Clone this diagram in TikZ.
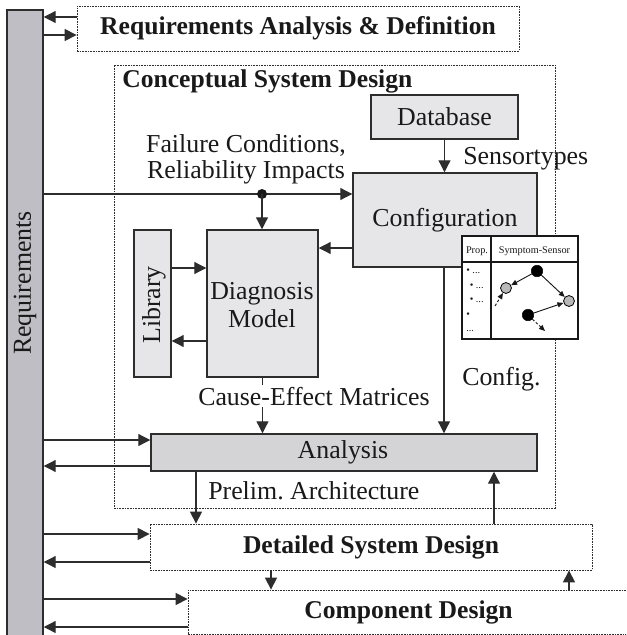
\documentclass[tikz,border=0pt]{standalone}
\usepackage{fontspec}
\setmainfont{Liberation Serif}
\usetikzlibrary{arrows.meta,fit}

\definecolor{boxfill}{RGB}{230,230,232}
\definecolor{anafill}{RGB}{212,212,215}
\definecolor{barfill}{RGB}{190,190,196}
\definecolor{edge}{RGB}{45,45,45}
\definecolor{ink}{RGB}{25,25,25}
\definecolor{dotgray}{RGB}{185,185,185}

\newcommand\lblfont{\fontsize{19.4}{23}\selectfont}
\newcommand\headfont{\fontsize{19.2}{22}\selectfont\bfseries}
\newcommand\tblfont{\fontsize{7.7}{9}\selectfont}

\tikzset{
  gbox/.style={draw=edge, line width=1.1pt, fill=boxfill, inner sep=0pt},
  abox/.style={gbox, fill=anafill},
  barbox/.style={gbox, fill=barfill},
  phase/.style={draw=edge, line width=0.6pt, dash pattern=on 1.2pt off 0.8pt, inner sep=0pt},
  conn/.style={draw=edge, line width=0.9pt, -{Triangle[length=9pt,width=9pt]}},
  lbl/.style={font=\lblfont, text=ink, inner sep=0pt},
  hlbl/.style={font=\headfont, text=ink, inner sep=0pt},
  tlbl/.style={font=\tblfont, text=ink, inner sep=0pt},
  tbl/.style={draw=ink, line width=0.9pt, fill=white, inner sep=0pt},
  bdot/.style={circle, fill=black, draw=black, inner sep=0pt, minimum size=8.6pt},
  gdot/.style={circle, fill=dotgray, draw=black, line width=0.6pt, inner sep=0pt, minimum size=8.2pt},
  tarr/.style={draw=ink, line width=0.7pt, -{Triangle[length=4.5pt,width=3.8pt]}},
  tdash/.style={tarr, dash pattern=on 2pt off 1.5pt}
}

\begin{document}
\begin{tikzpicture}[x=0.75pt, y=-0.75pt]
\useasboundingbox (0,0) rectangle (626,635);
\clip (0,0) rectangle (626,635);

% conceptual design frame
\node[phase, fit={(114,65) (555,508)}] (csd) {};
\node[hlbl, anchor=base west] (csdtitle) at (122,88) {Conceptual System Design};

% requirements bar
\node[barbox, fit={(7,10) (43,650)}] (bar) {};
\node[lbl, rotate=90] (bartext) at (25,283) {Requirements};

% phases
\node[phase, fit={(77,6) (519,51)}] (rad) {};
\node[hlbl] (radtext) at (rad.center) {Requirements Analysis \& Definition};
\node[phase, fit={(150,524) (592,570)}] (dsd) {};
\node[hlbl] (dsdtext) at (dsd.center) {Detailed System Design};
\node[phase, fit={(188,590) (629,634)}] (cd) {};
\node[hlbl] (cdtext) at (cd.center) {Component Design};

% blocks of the conceptual design
\node[gbox, fit={(371,95) (518,139)}] (db) {};
\node[lbl] (dbtext) at (db.center) {Database};
\node[gbox, fit={(353,173) (537,267)}] (cfg) {};
\node[lbl] (cfgtext) at (cfg.center) {Configuration};
\node[gbox, fit={(207,230) (318,377)}] (diag) {};
\node[lbl, anchor=base] (diagA) at (262,299) {Diagnosis};
\node[lbl, anchor=base] (diagB) at (262,327) {Model};
\node[gbox, fit={(134,230) (171,377)}] (lib) {};
\node[lbl, rotate=90] (libtext) at (154,305) {Library};
\node[abox, fit={(151,434) (537,471)}] (ana) {};
\node[lbl] (anatext) at (343,452.5) {Analysis};

% requirements <-> phases
\draw[conn] (rad.west |- 0,17) -- (bar.east |- 0,17);
\draw[conn] (bar.east |- 0,35) -- (rad.west |- 0,35);
\draw[conn] (bar.east |- 0,440) -- (ana.west |- 0,440);
\draw[conn] (ana.west |- 0,466) -- (bar.east |- 0,466);
\draw[conn] (bar.east |- 0,534) -- (dsd.west |- 0,534);
\draw[conn] (dsd.west |- 0,562) -- (bar.east |- 0,562);
\draw[conn] (bar.east |- 0,599) -- (cd.west |- 0,599);
\draw[conn] (cd.west |- 0,627) -- (bar.east |- 0,627);

% failure conditions feed
\coordinate (split) at (262,194);
\draw[conn] (bar.east |- split) -- (cfg.west |- split);
\fill[ink] (split) circle (5);
\draw[conn] (split) -- (split |- diag.north);
\node[lbl, anchor=base] (fc1) at (246,152) {Failure Conditions,};
\node[lbl, anchor=base] (fc2) at (246,178) {Reliability Impacts};

% database -> configuration
\draw[conn] (db.south) -- (db.south |- cfg.north);
\node[lbl, anchor=base west] (sens) at (463,164) {Sensortypes};

% configuration -> diagnosis model, library <-> diagnosis model
\draw[conn] (cfg.west |- 0,248) -- (diag.east |- 0,248);
\draw[conn] (lib.east |- 0,268) -- (diag.west |- 0,268);
\draw[conn] (diag.west |- 0,341) -- (lib.east |- 0,341);

% diagnosis model -> analysis
\draw[conn] (diag.south) -- (diag.south |- ana.north);
\node[lbl, anchor=base, fill=white, inner sep=1.5pt] (cem) at (314,405) {Cause-Effect Matrices};

% configuration -> analysis
\draw[conn] (444,0 |- cfg.south) -- (444,0 |- ana.north);
\node[lbl, anchor=base west] (cfglbl) at (462,385) {Config.};

% analysis <-> detailed design <-> component design
\draw[conn] (196,0 |- ana.south) -- (196,0 |- dsd.north);
\node[lbl, anchor=base west] (prelim) at (208,499) {Prelim.\ Architecture};
\draw[conn] (494,0 |- dsd.north) -- (494,0 |- ana.south);
\draw[conn] (271,0 |- dsd.south) -- (271,0 |- cd.north);
\draw[conn] (569,0 |- cd.north) -- (569,0 |- dsd.south);

% property / symptom-sensor table
\node[tbl, fit={(462,236) (578,339)}] (tab) {};
\draw[ink, line width=0.9pt] (tab.north -| 491,0) -- (tab.south -| 491,0);
\draw[ink, line width=0.9pt] (tab.west |- 0,262) -- (tab.east |- 0,262);
\node[tlbl, anchor=base] (prop) at (477,253) {Prop.};
\node[tlbl, anchor=base] (symsen) at (534.5,253) {Symptom-Sensor};
\node[tlbl, anchor=base west] (p1) at (466,273) {\textbullet\ ...};
\node[tlbl, anchor=base west] (p2) at (469.5,288) {\textbullet\ ...};
\node[tlbl, anchor=base west] (p3) at (469.5,302) {\textbullet\ ...};
\node[tlbl, anchor=base west] (p4) at (466,317) {\textbullet};
\node[tlbl, anchor=base west] (p5) at (466,331) {...};

\node[bdot] (b1) at (537,271) {};
\node[bdot] (b2) at (528,315) {};
\node[gdot] (g1) at (506,288) {};
\node[gdot] (g2) at (569,301) {};
\coordinate (tin) at (495,306);
\coordinate (tout) at (545,331);
\draw[tarr] (b1) -- (g1);
\draw[tarr] (b1) -- (g2);
\draw[tarr] (b2) -- (g2);
\draw[tdash] (b2) -- (tout);
\draw[tdash] (tin) -- (g1);
\end{tikzpicture}
\end{document}
